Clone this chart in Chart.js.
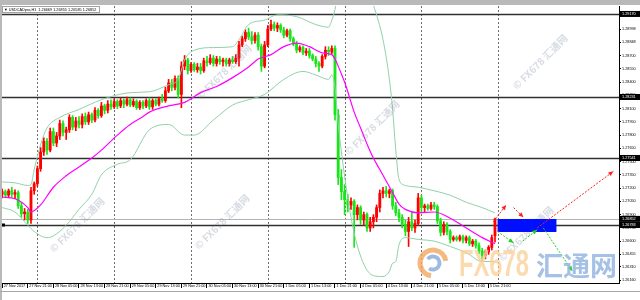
<!DOCTYPE html>
<html>
<head>
<meta charset="utf-8">
<script src="https://cdn.jsdelivr.net/npm/chart.js@4.4.1/dist/chart.umd.min.js"></script>
<style>
html,body{margin:0;padding:0;background:#ffffff;overflow:hidden;}
canvas{display:block;}
</style>
</head>
<body>
<canvas id="chart" width="640" height="300"></canvas>
<script>
// ---------------- DATA (USDCAD H1) ----------------
const openPrices = [
1.2713,1.2716,1.2712,1.2717,1.2713,1.2715,1.2700,1.2691,1.2693,1.2684,
1.2717,1.2725,1.2742,1.2761,1.2773,1.2763,1.2784,1.2771,1.2779,1.2793,
1.2783,1.2786,1.2800,1.2789,1.2796,1.2792,1.2801,1.2795,1.2803,1.2797,
1.2808,1.2802,1.2813,1.2808,1.2815,1.2812,1.2818,1.2813,1.2819,1.2815,
1.2820,1.2814,1.2818,1.2811,1.2817,1.2813,1.2819,1.2812,1.2819,1.2815,
1.2821,1.2819,1.2830,1.2839,1.2834,1.2844,1.2826,1.2858,1.2865,1.2853,
1.2860,1.2854,1.2857,1.2853,1.2864,1.2862,1.2867,1.2861,1.2866,1.2863,
1.2865,1.2861,1.2865,1.2863,1.2867,1.2882,1.2889,1.2896,1.2891,1.2887,
1.2893,1.2880,1.2858,1.2882,1.2900,1.2905,1.2901,1.2904,1.2899,1.2893,
1.2898,1.2889,1.2883,1.2876,1.2879,1.2873,1.2875,1.2870,1.2866,1.2861,
1.2858,1.2869,1.2876,1.2874,1.2878,1.2803,1.2732,1.2716,1.2707,1.2701,
1.2705,1.2690,1.2698,1.2684,1.2690,1.2675,1.2682,1.2687,1.2698,1.2714,
1.2717,1.2714,1.2717,1.2700,1.2692,1.2687,1.2679,1.2671,1.2682,1.2675,
1.2680,1.2709,1.2698,1.2700,1.2697,1.2701,1.2699,1.2683,1.2670,1.2679,
1.2671,1.2662,1.2664,1.2662,1.2665,1.2661,1.2664,1.2657,1.2660,1.2655,
1.2649,1.2644,1.2648,1.2653,1.2666];
const highPrices = [
1.2719,1.2718,1.2719,1.2721,1.2718,1.2717,1.2704,1.2697,1.2696,1.2721,
1.2727,1.2745,1.2766,1.2777,1.2776,1.2788,1.2788,1.2783,1.2797,1.2796,
1.2789,1.2803,1.2802,1.2800,1.2801,1.2804,1.2805,1.2806,1.2805,1.2811,
1.2810,1.2817,1.2815,1.2819,1.2820,1.2821,1.2820,1.2822,1.2821,1.2823,
1.2822,1.2821,1.2820,1.2819,1.2819,1.2821,1.2822,1.2821,1.2821,1.2823,
1.2826,1.2834,1.2843,1.2843,1.2847,1.2847,1.2863,1.2870,1.2867,1.2862,
1.2862,1.2861,1.2861,1.2867,1.2869,1.2871,1.2870,1.2869,1.2869,1.2867,
1.2867,1.2867,1.2869,1.2871,1.2886,1.2892,1.2899,1.2901,1.2897,1.2896,
1.2896,1.2883,1.2886,1.2904,1.2910,1.2908,1.2907,1.2906,1.2902,1.2900,
1.2900,1.2891,1.2886,1.2881,1.2881,1.2878,1.2878,1.2872,1.2869,1.2863,
1.2871,1.2880,1.2880,1.2881,1.2881,1.2809,1.2741,1.2724,1.2713,1.2709,
1.2707,1.2701,1.2700,1.2693,1.2692,1.2687,1.2690,1.2701,1.2718,1.2721,
1.2722,1.2719,1.2719,1.2704,1.2696,1.2690,1.2684,1.2687,1.2692,1.2684,
1.2714,1.2712,1.2702,1.2702,1.2704,1.2704,1.2701,1.2686,1.2682,1.2681,
1.2673,1.2666,1.2666,1.2667,1.2667,1.2666,1.2666,1.2662,1.2662,1.2658,
1.2652,1.2650,1.2655,1.2667,1.2686];
const lowPrices = [
1.2709,1.2709,1.2709,1.2710,1.2708,1.2697,1.2687,1.2684,1.2680,1.2680,
1.2713,1.2722,1.2739,1.2757,1.2758,1.2761,1.2768,1.2767,1.2775,1.2779,
1.2775,1.2783,1.2786,1.2785,1.2788,1.2788,1.2792,1.2792,1.2794,1.2795,
1.2799,1.2800,1.2804,1.2805,1.2809,1.2810,1.2810,1.2811,1.2811,1.2813,
1.2812,1.2812,1.2809,1.2809,1.2810,1.2811,1.2809,1.2809,1.2813,1.2813,
1.2817,1.2817,1.2828,1.2830,1.2831,1.2822,1.2811,1.2854,1.2849,1.2851,
1.2852,1.2851,1.2849,1.2851,1.2858,1.2860,1.2858,1.2858,1.2860,1.2858,
1.2858,1.2858,1.2861,1.2861,1.2858,1.2880,1.2886,1.2888,1.2883,1.2884,
1.2876,1.2852,1.2856,1.2880,1.2898,1.2898,1.2897,1.2896,1.2890,1.2891,
1.2886,1.2881,1.2873,1.2874,1.2871,1.2870,1.2867,1.2864,1.2857,1.2852,
1.2856,1.2866,1.2870,1.2872,1.2797,1.2724,1.2707,1.2690,1.2693,1.2696,
1.2653,1.2684,1.2679,1.2678,1.2671,1.2671,1.2675,1.2682,1.2693,1.2709,
1.2710,1.2709,1.2696,1.2689,1.2682,1.2675,1.2666,1.2654,1.2672,1.2670,
1.2678,1.2692,1.2693,1.2695,1.2695,1.2696,1.2680,1.2666,1.2667,1.2667,
1.2658,1.2660,1.2660,1.2660,1.2658,1.2658,1.2655,1.2654,1.2652,1.2646,
1.2637,1.2640,1.2645,1.2650,1.2659];
const closePrices = [
1.2716,1.2712,1.2717,1.2713,1.2715,1.2700,1.2691,1.2693,1.2684,1.2717,
1.2725,1.2742,1.2761,1.2773,1.2763,1.2784,1.2771,1.2779,1.2793,1.2783,
1.2786,1.2800,1.2789,1.2796,1.2792,1.2801,1.2795,1.2803,1.2797,1.2808,
1.2802,1.2813,1.2808,1.2815,1.2812,1.2818,1.2813,1.2819,1.2815,1.2820,
1.2814,1.2818,1.2811,1.2817,1.2813,1.2819,1.2812,1.2819,1.2815,1.2821,
1.2819,1.2830,1.2839,1.2834,1.2844,1.2826,1.2858,1.2865,1.2853,1.2860,
1.2854,1.2857,1.2853,1.2864,1.2862,1.2867,1.2861,1.2866,1.2863,1.2865,
1.2861,1.2865,1.2863,1.2867,1.2882,1.2889,1.2896,1.2891,1.2887,1.2893,
1.2880,1.2858,1.2882,1.2900,1.2905,1.2901,1.2904,1.2899,1.2893,1.2898,
1.2889,1.2883,1.2876,1.2879,1.2873,1.2875,1.2870,1.2866,1.2861,1.2858,
1.2869,1.2876,1.2874,1.2878,1.2803,1.2732,1.2716,1.2707,1.2701,1.2705,
1.2690,1.2698,1.2684,1.2690,1.2675,1.2682,1.2687,1.2698,1.2714,1.2717,
1.2714,1.2717,1.2700,1.2692,1.2687,1.2679,1.2671,1.2682,1.2675,1.2680,
1.2709,1.2698,1.2700,1.2697,1.2701,1.2699,1.2683,1.2670,1.2679,1.2671,
1.2662,1.2664,1.2662,1.2665,1.2661,1.2664,1.2657,1.2660,1.2655,1.2649,
1.2644,1.2648,1.2653,1.2664,1.2685];

// moving average (magenta) sampled at bar indices
const maBars   = [0,4,8,9,12,16,20,24,28,31,36,40,44,46,52,57,62,67,72,77,80,84,88,92,96,100,103,104,105,106,107,108,110,112,114,116,118,120,122,124,126,130,135,140,145,150,154];
const maValues = [1.2710,1.2708,1.2698,1.2693,1.2701,1.2721,1.2734,1.2744,1.2754,1.2763,1.2780,1.2792,1.2801,1.2806,1.2813,1.2817,1.2828,1.2835,1.2845,1.2857,1.2866,1.2871,1.2880,1.2884,1.2880,1.2873,1.2871,1.2866,1.2858,1.2849,1.2840,1.2829,1.2806,1.2788,1.2770,1.2754,1.2741,1.2728,1.2715,1.2702,1.2696,1.2692,1.2693,1.2686,1.2675,1.2664,1.2657];
// Bollinger upper band
const bbUpperBars   = [0,4,8,9,10,12,14,18,24,31,40,46,52,55,57,60,66,72,74,77,82,86,92,98,102,103,104,105,106,108,110,113,116,119,121,122,123,124,126,130,135,140,145,150,154];
const bbUpperValues = [1.2727,1.2726,1.2723,1.2724,1.2741,1.2769,1.2788,1.2800,1.2809,1.2820,1.2828,1.2829,1.2837,1.2843,1.2865,1.2876,1.2879,1.2880,1.2888,1.2905,1.2910,1.2916,1.2914,1.2905,1.2902,1.2910,1.2922,1.2944,1.2956,1.2969,1.2970,1.2956,1.2927,1.2888,1.2843,1.2809,1.2763,1.2730,1.2723,1.2721,1.2717,1.2712,1.2704,1.2698,1.2692];
// Bollinger lower band
const bbLowerBars   = [0,4,8,10,14,16,20,24,28,31,36,40,46,52,57,60,66,72,77,82,88,94,98,102,103,104,105,106,108,110,113,116,119,121,122,123,124,126,130,135,140,145,150,154];
const bbLowerValues = [1.2698,1.2693,1.2678,1.2671,1.2664,1.2666,1.2678,1.2696,1.2713,1.2735,1.2747,1.2752,1.2786,1.2792,1.2780,1.2780,1.2797,1.2814,1.2820,1.2826,1.2843,1.2852,1.2848,1.2843,1.2848,1.2834,1.2793,1.2761,1.2709,1.2669,1.2634,1.2621,1.2620,1.2626,1.2635,1.2637,1.2656,1.2664,1.2662,1.2660,1.2654,1.2647,1.2637,1.2637];

// axis ticks
const xTickBars   = [0,8,16,24,32,40,48,56,64,72,80,88,96,104,112,120,128,136,144,152];
const xTickLabels = ['27 Nov 2017','27 Nov 21:00','28 Nov 05:00','28 Nov 13:00','28 Nov 21:00','29 Nov 05:00','29 Nov 13:00','29 Nov 21:00','30 Nov 05:00','30 Nov 13:00','30 Nov 21:00','1 Dec 05:00','1 Dec 13:00','1 Dec 21:00','4 Dec 05:00','4 Dec 13:00','4 Dec 21:00','5 Dec 05:00','5 Dec 13:00','5 Dec 21:00'];
const yTickValues = [1.28998,1.28848,1.28700,1.28550,1.28400,1.28250,1.28100,1.27950,1.27800,1.27650,1.27500,1.27350,1.27200,1.27050,1.26900,1.26750,1.26600,1.26455,1.26310,1.26160];

// day separators, horizontal levels, bid
const separatorBars = [11,35,59,83,107,131,155];
const levelPrices   = [1.29170,1.28231,1.27541,1.26783];
const bidPrice      = 1.26852;
const titleText     = 'USDCADpro,H1  1.26669 1.26855 1.26585 1.26852';

// drawn objects: target zone and projection arrows (bar index, price)
const zoneBars   = [154.8, 173.2];
const zonePrices = [1.26851, 1.26704];
const redArrowFrom   = [[153.5,1.2682],[159.8,1.2698],[167.2,1.2675]];
const redArrowTo     = [[157.5,1.2701],[162.9,1.2687],[191.0,1.2739]];
const greenArrowFrom = [[154.8,1.2671],[162.6,1.2660],[169.1,1.2675]];
const greenArrowTo   = [[159.8,1.2658],[167.2,1.2673],[178.2,1.2626]];

// ---------------- CHART ----------------
const FONT = '"Liberation Sans", Arial, sans-serif';
const UP = '#ff0000', DOWN = '#19e619';
const idx = openPrices.map((_, i) => i);
const candleColor = idx.map(i => closePrices[i] >= openPrices[i] ? UP : DOWN);
const pts = (b, v) => b.map((x, i) => ({x: x, y: v[i]}));

function arrow(ctx, x1, y1, x2, y2, color) {
  ctx.strokeStyle = color; ctx.fillStyle = color; ctx.lineWidth = 1;
  ctx.setLineDash([2, 1.5]);
  ctx.beginPath(); ctx.moveTo(x1, y1); ctx.lineTo(x2, y2); ctx.stroke();
  ctx.setLineDash([]);
  const a = Math.atan2(y2 - y1, x2 - x1), L = 5, W = 2.2;
  ctx.beginPath();
  ctx.moveTo(x2, y2);
  ctx.lineTo(x2 - L*Math.cos(a) + W*Math.sin(a), y2 - L*Math.sin(a) - W*Math.cos(a));
  ctx.lineTo(x2 - L*Math.cos(a) - W*Math.sin(a), y2 - L*Math.sin(a) + W*Math.cos(a));
  ctx.closePath(); ctx.fill();
}

const overlay = {
  id: 'overlay',
  beforeDraw(chart) {
    const c = chart.ctx;
    c.save(); c.fillStyle = '#ffffff'; c.fillRect(0, 0, chart.width, chart.height); c.restore();
  },
  beforeDatasetsDraw(chart) {
    const {ctx, chartArea: a, scales: {x, y}} = chart;
    ctx.save();
    ctx.beginPath(); ctx.rect(a.left, a.top, a.right - a.left, a.bottom - a.top); ctx.clip();
    ctx.strokeStyle = '#6e6e6e'; ctx.lineWidth = 1; ctx.setLineDash([2, 2]);
    separatorBars.forEach(b => {
      const xx = Math.round(x.getPixelForValue(b)) + 0.5;
      ctx.beginPath(); ctx.moveTo(xx, a.top); ctx.lineTo(xx, a.bottom); ctx.stroke();
    });
    ctx.setLineDash([]);
    const yb = Math.round(y.getPixelForValue(bidPrice)) + 0.5;
    ctx.strokeStyle = '#b4b4b4'; ctx.beginPath(); ctx.moveTo(a.left, yb); ctx.lineTo(a.right, yb); ctx.stroke();
    ctx.strokeStyle = '#303030'; ctx.lineWidth = 1.3;
    levelPrices.forEach(p => {
      const yy = Math.round(y.getPixelForValue(p)) + 0.5;
      ctx.beginPath(); ctx.moveTo(a.left, yy); ctx.lineTo(a.right, yy); ctx.stroke();
    });
    const yl = y.getPixelForValue(levelPrices[3]);
    ctx.fillStyle = '#000'; ctx.fillRect(a.left, yl - 1.5, 3, 3);
    ctx.restore();
  },
  afterDatasetsDraw(chart) {
    const {ctx, chartArea: a, scales: {x, y}} = chart;
    ctx.save();
    ctx.beginPath(); ctx.rect(a.left, a.top, a.right - a.left, a.bottom - a.top); ctx.clip();
    ctx.font = 'bold 10px "Noto Sans CJK SC", ' + FONT;
    ctx.fillStyle = 'rgba(110,125,150,0.28)';
    ctx.textAlign = 'center'; ctx.textBaseline = 'middle';
    [[77,225],[224,72],[222,222],[372,128],[540,62],[526,234]].forEach(([cx, cy]) => {
      ctx.save(); ctx.translate(cx, cy); ctx.rotate(-Math.PI/4);
      ctx.fillText('\u00A9 FX678 \u6C47\u901A\u7F51', 0, 0); ctx.restore();
    });
    const zx1 = x.getPixelForValue(zoneBars[0]), zx2 = x.getPixelForValue(zoneBars[1]);
    const zy1 = y.getPixelForValue(zonePrices[0]), zy2 = y.getPixelForValue(zonePrices[1]);
    ctx.fillStyle = '#0010ff'; ctx.fillRect(zx1, zy1, zx2 - zx1, zy2 - zy1);
    redArrowFrom.forEach((f, i) => arrow(ctx, x.getPixelForValue(f[0]), y.getPixelForValue(f[1]),
      x.getPixelForValue(redArrowTo[i][0]), y.getPixelForValue(redArrowTo[i][1]), '#ff2020'));
    greenArrowFrom.forEach((f, i) => arrow(ctx, x.getPixelForValue(f[0]), y.getPixelForValue(f[1]),
      x.getPixelForValue(greenArrowTo[i][0]), y.getPixelForValue(greenArrowTo[i][1]), '#20d020'));
    ctx.globalAlpha = 0.8;
    ctx.lineWidth = 5; ctx.strokeStyle = '#f3a760';
    ctx.beginPath(); ctx.arc(433, 263, 13, 0.55*Math.PI, 1.95*Math.PI); ctx.stroke();
    ctx.lineWidth = 4; ctx.strokeStyle = '#86a9d8';
    ctx.beginPath(); ctx.arc(433, 263, 6.5, 1.2*Math.PI, 2.7*Math.PI); ctx.stroke();
    ctx.textAlign = 'left'; ctx.textBaseline = 'alphabetic';
    const g = ctx.createLinearGradient(0, 248, 0, 277);
    g.addColorStop(0, '#fbd19c'); g.addColorStop(1, '#f29a4c');
    ctx.fillStyle = g;
    ctx.save(); ctx.translate(459, 276); ctx.scale(0.66, 1);
    ctx.font = 'bold 36px ' + FONT; ctx.fillText('FX678', 0, 0); ctx.restore();
    ctx.fillStyle = '#8fb1de';
    ctx.font = 'bold 27px "Noto Sans CJK SC"';
    ctx.fillText('\u6C47\u901A\u7F51', 536, 276);
    ctx.globalAlpha = 1;
    ctx.restore();
  },
  afterDraw(chart) {
    const {ctx, chartArea: a, scales: {y}} = chart;
    ctx.save();
    ctx.fillStyle = '#b9b9b9';
    ctx.fillRect(0, 0, 640, 5);
    ctx.fillRect(0, 0, 2, 300);
    ctx.fillStyle = '#a8a8a8'; ctx.fillRect(0, 291, 640, 1);
    ctx.fillStyle = '#ffffff'; ctx.fillRect(2, 6, 98, 7);
    ctx.strokeStyle = '#a0a0a0'; ctx.lineWidth = 1; ctx.strokeRect(2.5, 6.5, 97, 6);
    ctx.fillStyle = '#000'; ctx.font = '3.8px ' + FONT; ctx.textBaseline = 'middle'; ctx.textAlign = 'left';
    ctx.fillText('\u25BC ' + titleText, 4, 9.8);
    const boxes = levelPrices.concat([bidPrice]);
    boxes.forEach(p => {
      const yy = y.getPixelForValue(p);
      ctx.fillStyle = '#000'; ctx.fillRect(a.right + 1, yy - 3, 20, 6);
      ctx.fillStyle = '#fff'; ctx.fillText(p.toFixed(5), a.right + 3, yy + 0.2);
    });
    ctx.restore();
  }
};

new Chart(document.getElementById('chart'), {
  type: 'bar',
  data: {
    datasets: [
      { type: 'line', data: pts(bbUpperBars, bbUpperValues), borderColor: '#8fd2a8', borderWidth: 1, pointRadius: 0, cubicInterpolationMode: 'monotone', order: 0 },
      { type: 'line', data: pts(bbLowerBars, bbLowerValues), borderColor: '#8fd2a8', borderWidth: 1, pointRadius: 0, cubicInterpolationMode: 'monotone', order: 0 },
      { type: 'line', data: pts(maBars, maValues), borderColor: '#ff00ff', borderWidth: 1.2, pointRadius: 0, cubicInterpolationMode: 'monotone', order: 0 },
      { type: 'bar', data: idx.map(i => ({x: i, y: [lowPrices[i], highPrices[i]]})), backgroundColor: candleColor, barThickness: 1, grouped: false, order: 2 },
      { type: 'bar', data: idx.map(i => ({x: i, y: [Math.min(openPrices[i], closePrices[i]), Math.max(openPrices[i], closePrices[i])]})), backgroundColor: candleColor, barThickness: 2.2, minBarLength: 1, grouped: false, order: 1 }
    ]
  },
  options: {
    responsive: false, animation: false, devicePixelRatio: 1, events: [],
    layout: { padding: { top: 6, left: 2, right: 0, bottom: 0 } },
    plugins: { legend: { display: false }, tooltip: { enabled: false }, title: { display: false } },
    scales: {
      x: {
        type: 'linear', min: -0.06, max: 192.75, offset: false,
        grid: { offset: false, drawOnChartArea: false, drawTicks: true, tickLength: 5, color: '#000' },
        border: { color: '#000' },
        afterBuildTicks: s => { s.ticks = xTickBars.map(v => ({value: v})); },
        afterFit: s => { s.height = 17; },
        ticks: { autoSkip: false, maxRotation: 0, minRotation: 0, align: 'start', padding: -4, labelOffset: 1.5,
                 font: { family: FONT, size: 3.8 }, color: '#000', callback: (v, i) => xTickLabels[i] }
      },
      y: {
        type: 'linear', position: 'right', min: 1.26127, max: 1.29260,
        grid: { drawOnChartArea: false, drawTicks: true, tickLength: 2, color: '#000' },
        border: { color: '#000' },
        afterBuildTicks: s => { s.ticks = yTickValues.map(v => ({value: v})); },
        afterFit: s => { s.width = 21; },
        ticks: { padding: 1, font: { family: FONT, size: 3.8 }, color: '#000', callback: v => Number(v).toFixed(5) }
      }
    }
  },
  plugins: [overlay]
});
</script>
</body>
</html>
